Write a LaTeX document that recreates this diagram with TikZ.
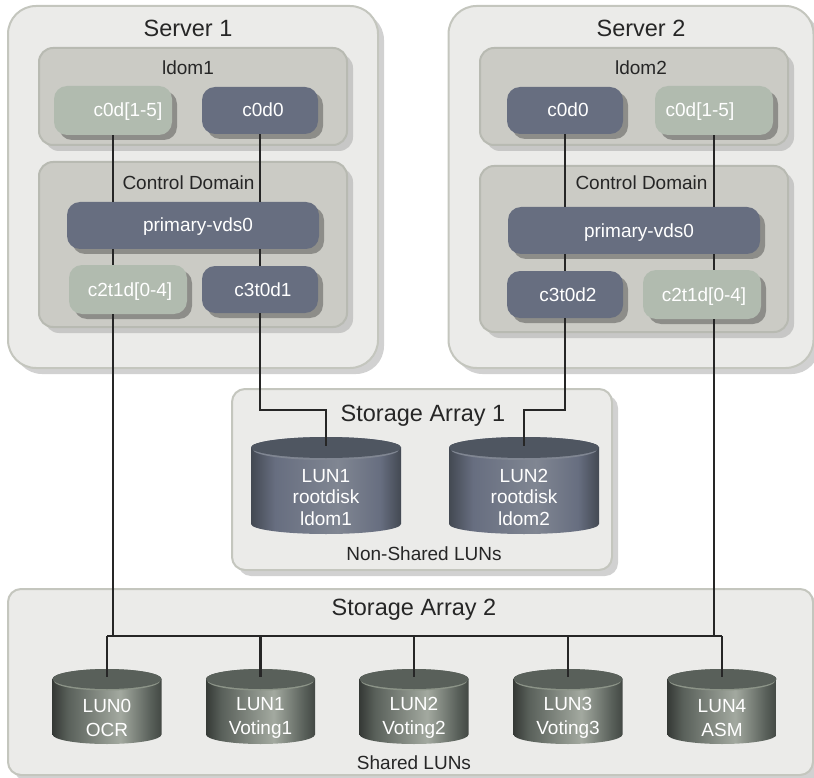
\documentclass[tikz,border=0pt]{standalone}
\usepackage{fontspec}
\setmainfont{Liberation Sans}
\usetikzlibrary{shadows}
\definecolor{HostGrey}{RGB}{235,235,233}
\definecolor{HostEdge}{RGB}{196,198,190}
\definecolor{DomGrey}{RGB}{203,203,197}
\definecolor{DomEdge}{RGB}{184,186,178}
\definecolor{SlateBox}{RGB}{103,110,128}
\definecolor{SageBox}{RGB}{177,187,175}
\definecolor{SlateTop}{RGB}{79,86,97}
\definecolor{SageTop}{RGB}{89,96,90}
\definecolor{SlateRim}{RGB}{128,134,146}
\definecolor{SageRim}{RGB}{140,148,136}
\pgfdeclarehorizontalshading{slatebody}{100bp}{color(0bp)=(SlateTop!85!black); color(25bp)=(SlateTop!85!black); color(33bp)=(SlateBox); color(54bp)=(SlateRim); color(68bp)=(SlateBox); color(75bp)=(SlateTop!85!black); color(100bp)=(SlateTop!85!black)}
\pgfdeclarehorizontalshading{sagebody}{100bp}{color(0bp)=(SageTop!60!black); color(25bp)=(SageTop!60!black); color(32bp)=(SageTop); color(56bp)=(SageRim!80!white); color(70bp)=(SageTop); color(75bp)=(SageTop!75!black); color(100bp)=(SageTop!75!black)}
\tikzset{
	hostbox/.style={draw=HostEdge, line width=2pt, fill=HostGrey, shape=rectangle, rounded corners=28pt, drop shadow={shadow xshift=6pt, shadow yshift=-6pt, fill=black, opacity=0.18}},
	arraybox/.style={hostbox, rounded corners=13pt},
	dombox/.style={draw=DomEdge, line width=2pt, fill=DomGrey, shape=rectangle, rounded corners=14pt, drop shadow={shadow xshift=6pt, shadow yshift=-6pt, fill=black, opacity=0.15}},
	slatebox/.style={fill=SlateBox, text=white, shape=rectangle, rounded corners=13pt, font=\fontsize{19}{22}\selectfont, inner sep=0pt, text height=13pt, text depth=0pt, drop shadow={shadow xshift=5pt, shadow yshift=-5pt, fill=black, opacity=0.3}},
	sagebox/.style={slatebox, fill=SageBox},
	title/.style={text=black!85, font=\fontsize{23.5}{27}\selectfont, inner sep=0pt, text height=17pt, text depth=0pt},
	caption/.style={text=black!85, font=\fontsize{19}{22}\selectfont, inner sep=0pt, text height=14pt, text depth=0pt},
	disk/.style={shape=rectangle, inner sep=0pt, text=white, align=center},
	slatedisk/.style={disk, minimum width=150pt, minimum height=97pt, font=\fontsize{19}{21.5}\selectfont},
	sagedisk/.style={disk, minimum width=109pt, minimum height=75pt, font=\fontsize{19}{24}\selectfont},
	link/.style={draw=black!85, line width=2.2pt}
}

\begin{document}
\begin{tikzpicture}[x=1pt, y=-1pt]
	\clip (0,0) rectangle (814,778);
	\node [hostbox, minimum width=370pt, minimum height=362pt] (srv1) at (193,187) {};
	\node [hostbox, minimum width=365pt, minimum height=362pt] (srv2) at (631,187) {};
	\node [arraybox, minimum width=380pt, minimum height=181pt] (arr1) at (422,479.5) {};
	\node [arraybox, minimum width=805pt, minimum height=186pt] (arr2) at (410.5,682) {};
	\node [dombox, minimum width=308pt, minimum height=97pt] (dom1) at (193,96.5) {};
	\node [dombox, minimum width=308pt, minimum height=165pt] (ctl1) at (193,244.5) {};
	\node [dombox, minimum width=308pt, minimum height=97pt] (dom2) at (634,96.5) {};
	\node [dombox, minimum width=308pt, minimum height=166pt] (ctl2) at (634,249) {};
	\node [title] (t01) at (188,28.5) {Server 1};
	\node [title] (t02) at (641,28.5) {Server 2};
	\node [caption] (t11) at (188,68) {ldom1};
	\node [caption] (t12) at (641,68) {ldom2};
	\node [caption] (t21) at (188.5,183) {Control Domain};
	\node [caption] (t22) at (641.5,183) {Control Domain};
	\node [title] (t31) at (423,413) {Storage Array 1};
	\node [title] (t32) at (414,607) {Storage Array 2};
	\node [caption] (t41) at (424,553) {Non-Shared LUNs};
	\node [caption] (t42) at (414,762) {Shared LUNs};
	\node [sagebox, minimum width=118pt, minimum height=49pt] (n11) at (113,110.5) {\hspace{30pt}c0d[1-5]};
	\node [slatebox, minimum width=116pt, minimum height=47pt] (n12) at (260,110.5) {\hspace{6pt}c0d0};
	\node [slatebox, minimum width=116pt, minimum height=47pt] (n21) at (565,110.5) {\hspace{6pt}c0d0};
	\node [sagebox, minimum width=118pt, minimum height=49pt] (n22) at (714,110.5) {c0d[1-5]\kern28pt};
	\node [sagebox, minimum width=118pt, minimum height=49pt] (n15) at (128,289.5) {\hspace{4pt}c2t1d[0-4]};
	\node [slatebox, minimum width=116pt, minimum height=47pt] (n16) at (260,289.5) {\hspace{6pt}c3t0d1};
	\node [slatebox, minimum width=116pt, minimum height=47pt] (n25) at (565,294.5) {\hspace{6pt}c3t0d2};
	\node [sagebox, minimum width=118pt, minimum height=49pt] (n26) at (702,294.5) {\hspace{4pt}c2t1d[0-4]};
	\node [slatebox, minimum width=252pt, minimum height=47pt] (pv1) at (193,225.5) {\hspace{10pt}primary-vds0};
	\node [slatebox, minimum width=252pt, minimum height=47pt] (pv2) at (634,230.5) {\hspace{10pt}primary-vds0};
	\foreach \name/\cx/\body in {lr1/326/{LUN1\\rootdisk\\ldom1}, lr2/524/{LUN2\\rootdisk\\ldom2}} {
		\shade [shading=slatebody] (\cx-75,447.5) -- (\cx-75,524) arc (180:360:75pt and 10pt) -- (\cx+75,447.5) arc (0:180:75pt and 10.5pt);
		\fill [SlateRim] (\cx,449.5) ellipse (73 and 10.5);
		\fill [SlateTop] (\cx,447.5) ellipse (75 and 10.5);
		\node [slatedisk] (\name) at (\cx,485.5) {\rule{0pt}{37pt}\body};
	}
	\foreach \name/\cx/\body in {ls0/107/{LUN0\\OCR}, ls1/260.5/{LUN1\\Voting1}, ls2/414/{LUN2\\Voting2}, ls3/568/{LUN3\\Voting3}, ls4/722/{LUN4\\ASM}} {
		\shade [shading=sagebody] (\cx-54.5,679) -- (\cx-54.5,734.5) arc (180:360:54.5pt and 9.5pt) -- (\cx+54.5,679) arc (0:180:54.5pt and 10pt);
		\fill [SageRim] (\cx,681) ellipse (53 and 9.5);
		\fill [SageTop] (\cx,679) ellipse (54.5 and 10);
		\node [sagedisk] (\name) at (\cx,706.5) {\rule{0pt}{36pt}\body};
	}
	\coordinate (jog1) at (326,410);
	\coordinate (jog2) at (524,410);
	\coordinate (bus) at (414,636);
	\draw [link] (n11) -- (n11 |- pv1.north);
	\draw [link] (n12) -- (n12 |- pv1.north);
	\draw [link] (n21) -- (n21 |- pv2.north);
	\draw [link] (n22) -- (n22 |- pv2.north);
	\draw [link] (n11 |- pv1.south) -- (n11 |- n15.north);
	\draw [link] (n12 |- pv1.south) -- (n16.north);
	\draw [link] (n21 |- pv2.south) -- (n25.north);
	\draw [link] (n22 |- pv2.south) -- (n22 |- n26.north);
	\draw [link] (n11 |- n15.south) -- (n11 |- bus);
	\draw [link] (n22 |- n26.south) -- (n22 |- bus);
	\draw [link] (n16.south) |- (jog1) -- ([yshift=-9pt]lr1.north);
	\draw [link] (n25.south) |- (jog2) -- ([yshift=-9pt]lr2.north);
	\draw [link] (ls0.north |- bus) -- (ls4.north |- bus);
	\foreach \name in {ls0,ls1,ls2,ls3,ls4} {
		\draw [link] (\name.north |- bus) -- ([yshift=-8pt]\name.north);
	}
\end{tikzpicture}
\end{document}
